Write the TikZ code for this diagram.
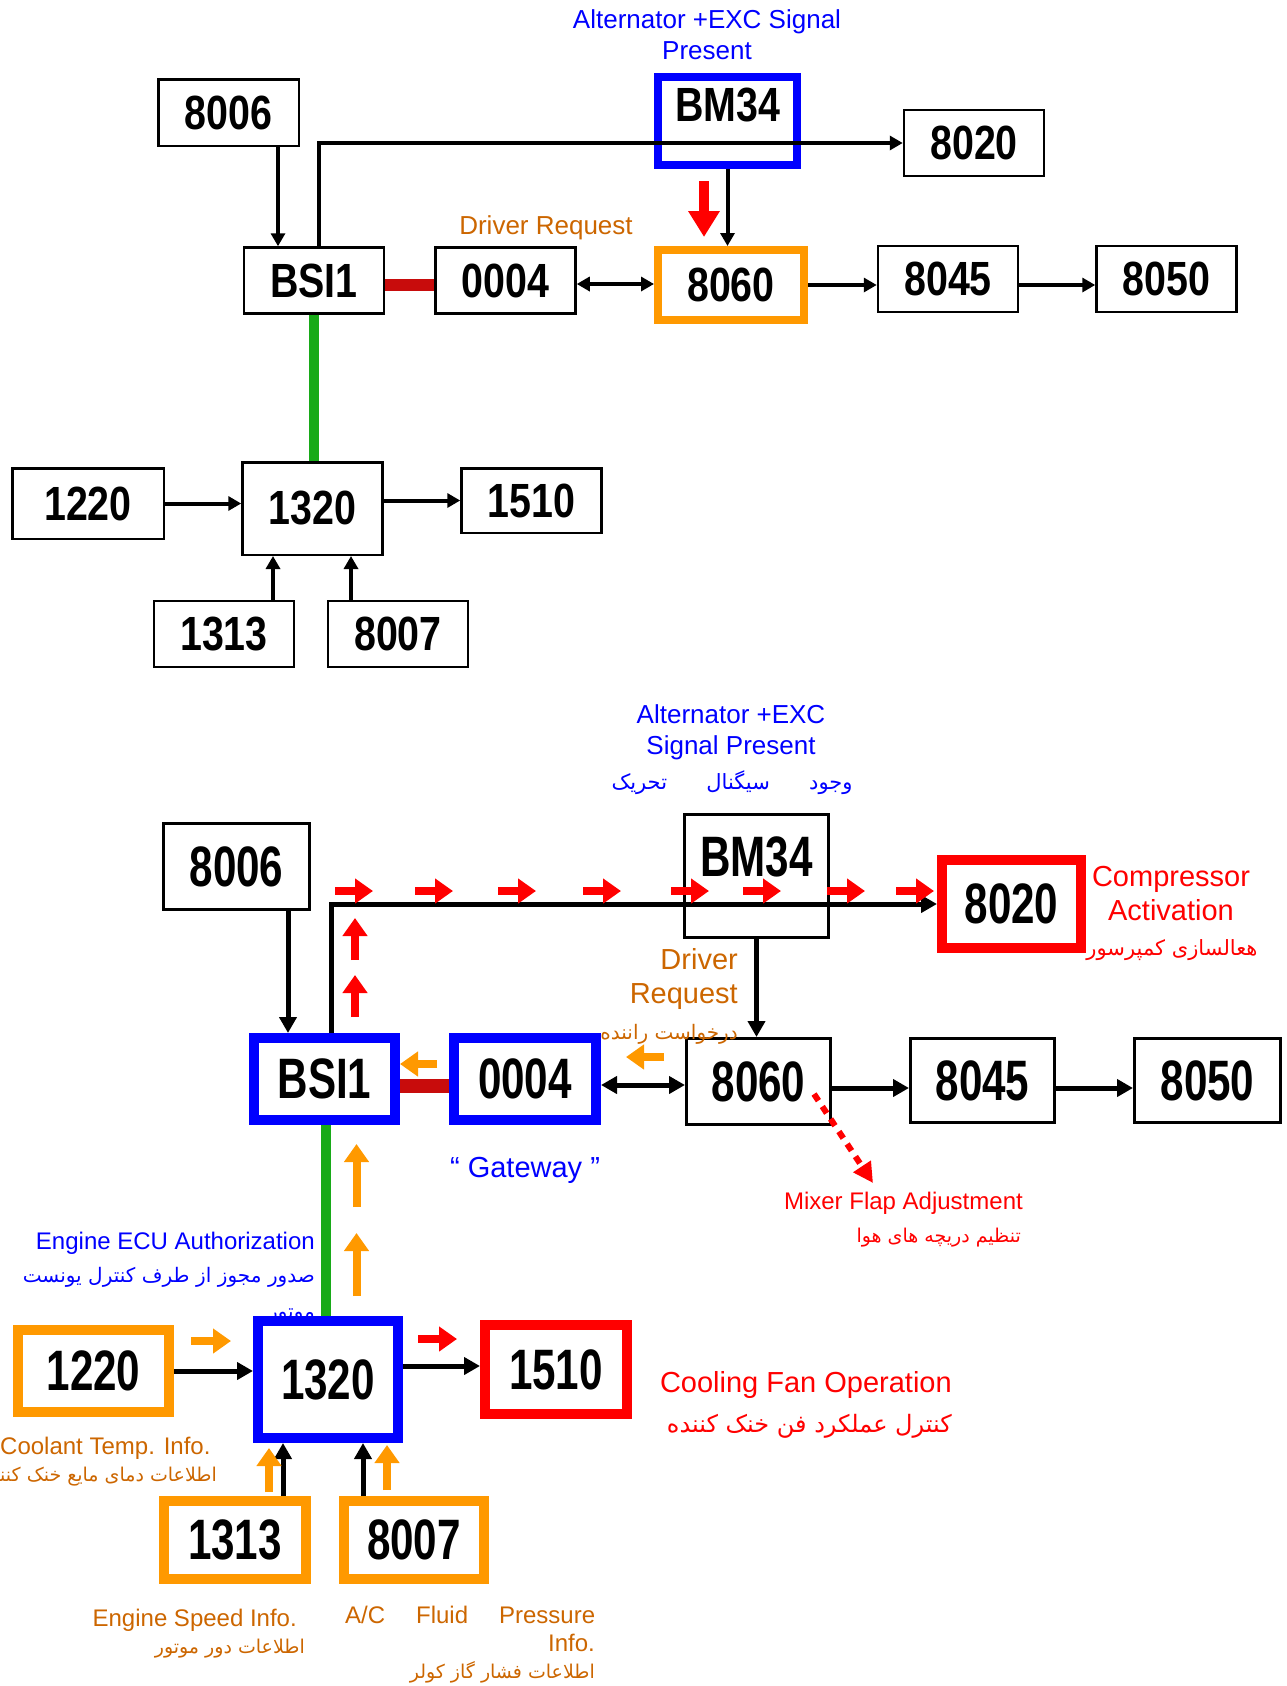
\documentclass[tikz,border=0pt]{standalone}
\usepackage{fontspec}
\setmainfont{Liberation Sans}
\newfontfamily\fa[Script=Arabic]{DejaVu Sans}
\newfontfamily\topnum[FakeStretch=0.82]{Liberation Sans}
\newfontfamily\botnum[FakeStretch=0.74]{Liberation Sans}
\TeXXeTstate=1
\usepackage{xcolor}
\definecolor{sigblue}{RGB}{0,0,255}
\definecolor{sigred}{RGB}{255,0,0}
\definecolor{sigorange}{RGB}{255,153,0}
\definecolor{txtorange}{RGB}{204,102,0}
\definecolor{barred}{RGB}{200,12,12}
\definecolor{busgreen}{RGB}{24,170,24}
\usetikzlibrary{arrows.meta,positioning,calc}
\tikzset{
  tbox/.style={draw=black,line width=2.5pt,fill=white,inner sep=0pt,minimum width=140pt,minimum height=66pt,font=\topnum\bfseries\fontsize{48}{50}\selectfont},
  bbox/.style={draw=black,line width=3pt,fill=white,inner sep=0pt,minimum width=144pt,minimum height=86pt,font=\botnum\bfseries\fontsize{57}{60}\selectfont},
  bluefr/.style={draw=sigblue,line width=10pt},
  redfr/.style={draw=sigred,line width=10pt},
  orgfr/.style={draw=sigorange,line width=10pt},
  tarr/.style={-{Triangle[length=13pt,width=14pt]},line width=4pt,draw=black},
  tdbl/.style={{Triangle[length=13pt,width=14pt]}-{Triangle[length=13pt,width=14pt]},line width=4pt,draw=black},
  arr/.style={-{Triangle[length=16pt,width=17pt]},line width=5pt,draw=black},
  dbl/.style={{Triangle[length=16pt,width=17pt]}-{Triangle[length=16pt,width=17pt]},line width=5pt,draw=black},
  tbar/.style={line width=12pt,draw=barred},
  bar/.style={line width=14pt,draw=barred},
  tbus/.style={line width=10pt,draw=busgreen},
  bus/.style={line width=10pt,draw=busgreen},
  bigred/.style={-{Triangle[length=26pt,width=30pt]},line width=10pt,draw=sigred},
  sigarr/.style={-{Triangle[length=18pt,width=24pt]},line width=8pt},
  dotarr/.style={-{Triangle[length=20pt,width=20pt]},line width=6pt,draw=sigred,dash pattern=on 8pt off 7pt},
  lab/.style={align=center,inner sep=0pt},
  f24/.style={font=\fontsize{24}{28}\selectfont},
  f26/.style={font=\fontsize{26}{31}\selectfont},
  f29/.style={font=\fontsize{29}{34}\selectfont},
  pers/.style={inner sep=0pt,font=\fa\fontsize{19}{24}\selectfont},
}

\begin{document}
\begin{tikzpicture}[x=1pt,y=-1pt]
  \useasboundingbox (0,0) rectangle (1286,1686);

  % label that sits behind the 1320 box
  \node[pers,text=sigblue,anchor=east,font=\fa\fontsize{20}{24}\selectfont] (lEcuC) at (315,1316) {\beginR موتور\endR};

  % ---------- upper diagram ----------
  \node[tbox,minimum width=140.5pt,minimum height=66.5pt] (t8006) at (228.5,112.5) {8006};
  \node[tbox,draw=sigblue,line width=8pt,minimum width=139pt,minimum height=88pt,text depth=32pt] (tBM34) at (727.5,121) {BM34};
  \node[tbox] (t8020) at (974,143) {8020};
  \node[tbox] (tBSI) at (314,280.5) {BSI1};
  \node[tbox] (t0004) at (505.5,280.5) {0004};
  \node[tbox,draw=sigorange,line width=8pt,minimum width=146pt,minimum height=70pt] (t8060) at (731,285) {8060};
  \node[tbox] (t8045) at (948,279) {8045};
  \node[tbox] (t8050) at (1166.5,279) {8050};
  \node[tbox,minimum width=151.5pt,minimum height=70.5pt] (t1220) at (88,503.5) {1220};
  \node[tbox,minimum height=92.5pt] (t1320) at (312.5,508.5) {1320};
  \node[tbox,minimum height=64.5pt] (t1510) at (531.5,500.5) {1510};
  \node[tbox] (t1313) at (224,634) {1313};
  \node[tbox] (t8007) at (398,634) {8007};

  \coordinate (ta) at ([xshift=-36pt]tBSI.north);
  \draw[tarr] (t8006.south -| ta) -- (ta);
  \draw[tarr] ([xshift=5pt]tBSI.north) |- (t8020.west);
  \draw[tarr] (tBM34.south) -- (tBM34.south |- t8060.north);
  \coordinate (tr1) at (704,181);
  \coordinate (tr2) at (704,237);
  \draw[bigred] (tr1) -- (tr2);
  \draw[tbar] ([yshift=-4.5pt]tBSI.east) -- ([yshift=-4.5pt]t0004.west);
  \coordinate (tb) at ([yshift=-3.5pt]t0004.east);
  \draw[tdbl] (tb) -- (tb -| t8060.west);
  \draw[tarr] (t8060.east) -- (t8060.east -| t8045.west);
  \coordinate (tc) at ([yshift=-6pt]t8045.east);
  \draw[tarr] (tc) -- (tc -| t8050.west);
  \draw[tbus] (tBSI.south) -- (tBSI.south |- t1320.north);
  \draw[tarr] (t1220.east) -- (t1220.east -| t1320.west);
  \draw[tarr] (t1320.east |- t1510.west) -- (t1510.west);
  \coordinate (td) at ([xshift=49pt]t1313.north);
  \draw[tarr] (td) -- (td |- t1320.south);
  \coordinate (te) at ([xshift=-47pt]t8007.north);
  \draw[tarr] (te) -- (te |- t1320.south);

  \node[lab,f26,text=sigblue] (tAlt) at (707,35) {Alternator +EXC Signal\\Present};
  \node[lab,f26,text=txtorange] (tDrv) at (546,228) {Driver Request};

  % ---------- lower diagram ----------
  \node[bbox,minimum width=146pt] (b8006) at (236.5,866.5) {8006};
  \node[bbox,minimum height=123pt,text depth=38pt] (bBM34) at (756.5,876) {BM34};
  \node[bbox,redfr,minimum width=139pt,minimum height=88pt] (b8020) at (1011.5,904) {8020};
  \node[bbox,bluefr,minimum width=141pt,minimum height=82pt] (bBSI) at (324.5,1079) {BSI1};
  \node[bbox,bluefr,minimum width=142pt,minimum height=82pt] (b0004) at (525,1079) {0004};
  \node[bbox] (b8060) at (758.5,1081.5) {8060};
  \node[bbox,minimum height=84pt] (b8045) at (982.5,1080.5) {8045};
  \node[bbox,minimum width=146pt,minimum height=84pt] (b8050) at (1207.5,1080.5) {8050};
  \node[bbox,orgfr,minimum width=151pt,minimum height=82pt] (b1220) at (93.5,1371) {1220};
  \node[bbox,bluefr,minimum width=140pt,minimum height=117pt] (b1320) at (328,1379.5) {1320};
  \node[bbox,redfr,minimum width=142pt,minimum height=89pt] (b1510) at (556,1369.5) {1510};
  \node[bbox,orgfr,minimum width=142pt,minimum height=78pt] (b1313) at (235,1540) {1313};
  \node[bbox,orgfr,minimum width=140pt,minimum height=78pt] (b8007) at (414,1540) {8007};

  \coordinate (ba) at ([xshift=-36.5pt]bBSI.north);
  \draw[arr] (b8006.south -| ba) -- (ba);
  \draw[arr] ([xshift=6.5pt]bBSI.north) |- (b8020.west);
  \draw[arr] (bBM34.south) -- (bBM34.south |- b8060.north);
  \draw[bar] ([yshift=-7pt]bBSI.east) -- ([yshift=-7pt]b0004.west);
  \coordinate (bb) at ([yshift=-6pt]b0004.east);
  \draw[dbl] (bb) -- (bb -| b8060.west);
  \coordinate (bc) at ([yshift=-6.5pt]b8060.east);
  \draw[arr] (bc) -- (bc -| b8045.west);
  \coordinate (bd) at ([yshift=-7.5pt]b8045.east);
  \draw[arr] (bd) -- (bd -| b8050.west);
  \coordinate (be) at ([xshift=1.5pt]bBSI.south);
  \draw[bus] (be) -- (be |- b1320.north);
  \draw[arr] (b1220.east) -- (b1220.east -| b1320.west);
  \coordinate (bq) at ([yshift=3.5pt]b1510.west);
  \draw[arr] (b1320.east |- bq) -- (bq);
  \coordinate (bf) at ([xshift=48pt]b1313.north);
  \draw[arr] (bf) -- (bf |- b1320.south);
  \coordinate (bg) at ([xshift=-51pt]b8007.north);
  \draw[arr] (bg) -- (bg |- b1320.south);
  \coordinate (mx1) at (814,1094);
  \coordinate (mx2) at (873,1183);
  \draw[dotarr] (mx1) -- (mx2);

  % signal flow marks
  \foreach \x in {335,415,498,583,671,743,827,896}
    \draw[sigarr,draw=sigred] (\x,891) -- ++(38,0);
  \foreach \y in {960,1017}
    \draw[sigarr,draw=sigred] (355,\y) -- ++(0,-42);
  \draw[sigarr,draw=sigorange] (437,1064) -- ++(-37,0);
  \draw[sigarr,draw=sigorange] (664,1057) -- ++(-38,0);
  \foreach \y in {1207,1296}
    \draw[sigarr,draw=sigorange] (356.5,\y) -- ++(0,-63);
  \draw[sigarr,draw=sigorange] (191,1341) -- ++(40,0);
  \draw[sigarr,draw=sigred] (418,1339) -- ++(39,0);
  \draw[sigarr,draw=sigorange] (269,1492) -- ++(0,-44);
  \draw[sigarr,draw=sigorange] (387,1490) -- ++(0,-45);

  % labels
  \node[lab,f26,text=sigblue] (bAlt) at (731,732) {Alternator +EXC\\Signal Present};
  \node[pers,text=sigblue,font=\fa\fontsize{21}{24}\selectfont] (bAltF) at (732,783) {\makebox[241pt][s]{\beginR وجود سیگنال تحریک\endR}};
  \node[lab,f29,text=sigred] (lComp) at (1171,894) {Compressor\\Activation};
  \node[pers,text=sigred,font=\fa\fontsize{21}{24}\selectfont] (lCompF) at (1172,950) {\beginR هعالسازی کمپرسور\endR};
  \node[lab,f29,text=txtorange,align=right,anchor=east] (lDrv) at (738,979) {Driver\\Request};
  \node[pers,text=txtorange,font=\fa\fontsize{20}{24}\selectfont,anchor=east] (lDrvF) at (738,1034) {\beginR درخواست راننده\endR};
  \node[lab,f29,text=sigblue] (lGate) at (525,1170) {“ Gateway ”};
  \node[lab,f24,text=sigred,anchor=east] (lMix) at (1023,1203) {Mixer Flap Adjustment};
  \node[pers,text=sigred,anchor=east] (lMixF) at (1021,1238) {\beginR تنظیم دریچه های هوا\endR};
  \node[lab,f24,text=sigblue,anchor=east] (lEcu) at (315,1243) {Engine ECU Authorization};
  \node[pers,text=sigblue,font=\fa\fontsize{20}{24}\selectfont,anchor=east] (lEcuF) at (315,1277) {\makebox[292pt][s]{\beginR صدور مجوز از طرف کنترل یونست\endR}};
  \node[lab,f24,text=txtorange,anchor=west] (lCool) at (0,1448) {Coolant Temp. Info.};
  \node[pers,text=txtorange,anchor=east] (lCoolF) at (217,1477) {\beginR اطلاعات دمای مایع خنک کننده\endR};
  \node[lab,f24,text=txtorange,anchor=east] (lSpd) at (297,1620) {Engine Speed Info.};
  \node[pers,text=txtorange,anchor=east] (lSpdF) at (305,1649) {\beginR اطلاعات دور موتور\endR};
  \node[lab,f24,text=txtorange,anchor=west] (lAc) at (345,1615) {\makebox[250pt][s]{A/C Fluid Pressure}};
  \node[lab,f24,text=txtorange,anchor=east] (lAc2) at (595,1643) {Info.};
  \node[pers,text=txtorange,anchor=east] (lAcF) at (595,1672) {\beginR اطلاعات فشار گاز کولر\endR};
  \node[lab,f29,text=sigred,anchor=east] (lFan) at (952,1385) {Cooling Fan Operation};
  \node[pers,text=sigred,anchor=east,font=\fa\fontsize{24}{28}\selectfont] (lFanF) at (952,1426) {\beginR کنترل عملکرد فن خنک کننده\endR};
\end{tikzpicture}
\end{document}
